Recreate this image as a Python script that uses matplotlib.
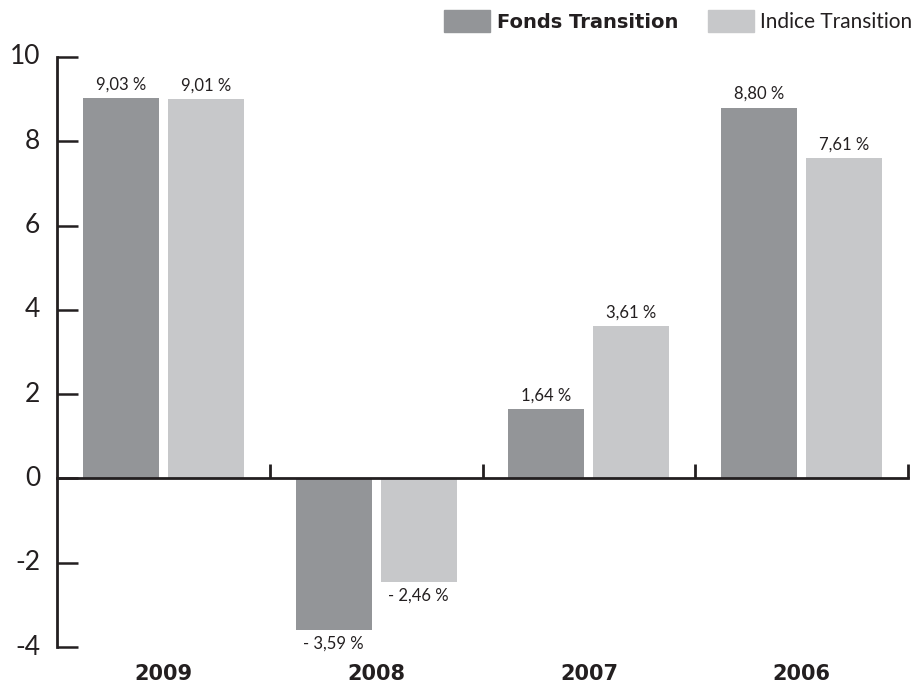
import matplotlib.pyplot as plt
import matplotlib.transforms as mtransforms
from matplotlib.patches import Rectangle
import numpy as np

plt.rcParams['font.family'] = ['Lato', 'DejaVu Sans']

# données
years = ["2009", "2008", "2007", "2006"]
fonds = [9.03, -3.59, 1.64, 8.80]
indice = [9.01, -2.46, 3.61, 7.61]
series_names = ["Fonds Transition", "Indice Transition"]
yticks = [-4, -2, 0, 2, 4, 6, 8, 10]

DARK = '#939598'
LIGHT = '#c7c8ca'
AXC = '#231f20'

fig = plt.figure(figsize=(9.23, 6.90), dpi=100)
ax = fig.add_axes([0.0618, 0.0623, 0.9220, 0.8551])

x = np.arange(len(years))
w = 0.357
off = 0.2
ax.bar(x - off, fonds, w, color=DARK, zorder=2)
ax.bar(x + off, indice, w, color=LIGHT, zorder=2)


def fmt(v):
    s = f"{abs(v):.2f}".replace(".", ",") + " %"
    return s if v >= 0 else "- " + s


for xs, vals in [(x - off, fonds), (x + off, indice)]:
    for xi, v in zip(xs, vals):
        if v >= 0:
            ax.annotate(fmt(v), (xi, v), xytext=(0, 4), textcoords='offset points',
                        ha='center', va='bottom', fontsize=12, color=AXC)
        else:
            ax.annotate(fmt(v), (xi, v), xytext=(0, -4), textcoords='offset points',
                        ha='center', va='top', fontsize=12, color=AXC)

ax.set_xlim(-0.5, 3.5)
ax.set_ylim(-4, 10)

# axes
for s in ['top', 'right']:
    ax.spines[s].set_visible(False)
ax.spines['bottom'].set_position(('data', 0))
ax.spines['bottom'].set_zorder(3)
for s in ['bottom', 'left']:
    ax.spines[s].set_linewidth(2)
    ax.spines[s].set_color(AXC)

ax.set_yticks(yticks)
ax.set_yticklabels([str(t) for t in yticks], fontsize=19, color=AXC)
ax.tick_params(axis='y', direction='in', length=15, width=1.8, color=AXC, pad=12)
for lab in ax.get_yticklabels():
    lab.set_verticalalignment('center')

ax.set_xticks(x + 0.5)
ax.set_xticklabels([])
ax.tick_params(axis='x', direction='in', length=10, width=2, color=AXC)

# années en bas
trans = mtransforms.blended_transform_factory(ax.transData, ax.transAxes)
for xi, yr in zip(x, years):
    ax.text(xi, -0.045, yr, transform=trans, ha='center', va='center',
            fontsize=15, fontweight='bold', family='DejaVu Sans', color=AXC)

# légende
fig.patches.append(Rectangle((444 / 923, 1 - 32 / 690), 46 / 923, 22 / 690,
                             transform=fig.transFigure, color=DARK))
fig.text(497 / 923, 1 - 22 / 690, series_names[0], ha='left', va='center',
         fontsize=14, fontweight='bold', family='DejaVu Sans', color=AXC)
fig.patches.append(Rectangle((708 / 923, 1 - 32 / 690), 46 / 923, 22 / 690,
                             transform=fig.transFigure, color=LIGHT))
fig.text(760 / 923, 1 - 22 / 690, series_names[1], ha='left', va='center',
         fontsize=15, color=AXC)

fig.savefig("out.png", dpi=100)
